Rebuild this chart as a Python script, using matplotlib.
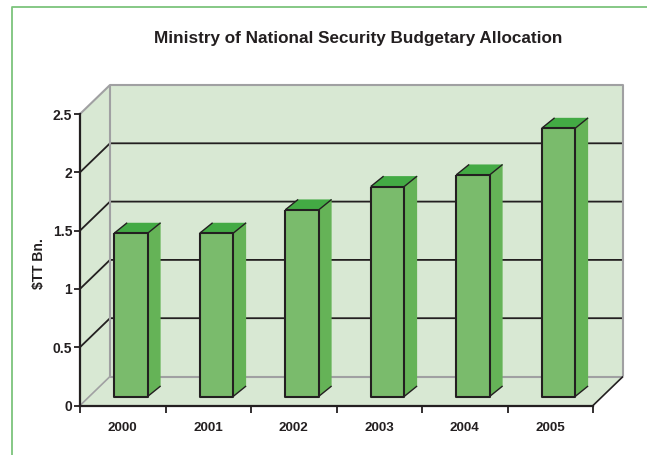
import matplotlib
matplotlib.use("Agg")
import matplotlib.pyplot as plt
from matplotlib.patches import Polygon
from matplotlib.lines import Line2D

years = ["2000", "2001", "2002", "2003", "2004", "2005"]
budget = [1.4, 1.4, 1.6, 1.8, 1.9, 2.3]
y_ticks = [0, 0.5, 1, 1.5, 2, 2.5]
y_labels = ["0", "0.5", "1", "1.5", "2", "2.5"]

W, H = 647, 455
WALL = "#d8e8d3"
FRONT = "#7abb6c"
SIDE = "#65b357"
TOP = "#43aa44"
DARK = "#231f20"
GREY = "#a0a0a2"

plt.rcParams["font.family"] = ["Liberation Sans", "DejaVu Sans"]
plt.rcParams["font.weight"] = "bold"

fig = plt.figure(figsize=(W / 100, H / 100), dpi=100, facecolor="white")

# page frame, left and top only
fig.add_artist(Line2D([11.5 / W, 11.5 / W, 1], [0, 1 - 7 / H, 1 - 7 / H], color="#7cc47c", lw=1.3))

ax = fig.add_axes([80 / W, 1 - 405.5 / H, 513 / W, 291.5 / H])
ax.set_xlim(0, 6)
ax.set_ylim(0, 2.5)
ax.patch.set_visible(False)

# depth of the fake 3d box and the bars, in data units
box_dx, box_dy = 30 / 85.5, 29 / 116.6
bar_dx, bar_dy = 13 / 85.5, 10.5 / 116.6
bar_w = 33.5 / 85.5
bar_off = 0.595
base = 9 / 116.6


def poly(pts, fc, z):
    ax.add_patch(Polygon(pts, closed=True, fc=fc, ec="none", zorder=z, clip_on=False))


def line(xs, ys, color, lw, z):
    ax.add_line(Line2D(xs, ys, color=color, lw=lw, zorder=z, clip_on=False, solid_capstyle="butt"))


top = y_ticks[-1]
# back wall, left wall, floor
poly([(box_dx, box_dy), (6 + box_dx, box_dy), (6 + box_dx, top + box_dy), (box_dx, top + box_dy)], WALL, 1)
poly([(0, 0), (box_dx, box_dy), (box_dx, top + box_dy), (0, top)], WALL, 1)
poly([(0, 0), (6, 0), (6 + box_dx, box_dy), (box_dx, box_dy)], WALL, 1)

# gridlines around the walls
for v in y_ticks[1:-1]:
    line([0, box_dx, 6 + box_dx], [v, v + box_dy, v + box_dy], DARK, 1.3, 2)

# grey outline of the box
line([box_dx, box_dx], [box_dy, top + box_dy], GREY, 1.5, 2)
line([0, box_dx, 6 + box_dx, 6 + box_dx], [top, top + box_dy, top + box_dy, box_dy], GREY, 1.5, 2)
line([box_dx, 6 + box_dx], [box_dy, box_dy], GREY, 1.5, 2)
line([0, box_dx], [0, box_dy], GREY, 1.2, 2)
line([6, 6 + box_dx], [0, box_dy], DARK, 1.2, 2)

# bars, the floor offset lifts the whole bar
for i, v in enumerate(budget):
    x0 = i + bar_off - bar_w / 2
    x1 = x0 + bar_w
    t = v + base
    poly([(x1, base), (x1 + bar_dx, base + bar_dy), (x1 + bar_dx, t + bar_dy), (x1, t)], SIDE, 3)
    poly([(x0, t), (x1, t), (x1 + bar_dx, t + bar_dy), (x0 + bar_dx, t + bar_dy)], TOP, 3)
    poly([(x0, base), (x1, base), (x1, t), (x0, t)], FRONT, 3)
    line([x0, x0, x1, x1, x0], [t, base, base, t, t], DARK, 1.5, 4)
    line([x0, x0 + bar_dx], [t, t + bar_dy], DARK, 1.0, 4)
    line([x1, x1 + bar_dx], [t, t + bar_dy], DARK, 1.0, 4)
    line([x1, x1 + bar_dx], [base, base + bar_dy], DARK, 1.0, 4)

# axes
for s in ["top", "right"]:
    ax.spines[s].set_visible(False)
for s in ["left", "bottom"]:
    ax.spines[s].set_color(DARK)
    ax.spines[s].set_linewidth(1.6)
    ax.spines[s].set_zorder(5)

ax.set_yticks(y_ticks)
ax.set_yticklabels(y_labels, fontsize=10, color=DARK)
ax.set_xticks(range(7))
ax.set_xticklabels([""] * 7)
ax.tick_params(axis="y", length=4, width=1.3, color=DARK, pad=1.5)
ax.tick_params(axis="x", length=5, width=1.3, color=DARK)

for i, y in enumerate(years):
    ax.text(i + 0.5, -0.19, y, ha="center", va="center", fontsize=9.6, color=DARK)

fig.text(39 / W, 1 - 264 / H, "$TT Bn.", rotation=90, ha="center", va="center", fontsize=10, color=DARK)
fig.text(358.5 / W, 1 - 39 / H, "Ministry of National Security Budgetary Allocation",
         ha="center", va="center", fontsize=12.3, color=DARK)

fig.savefig("out.png", dpi=100)
